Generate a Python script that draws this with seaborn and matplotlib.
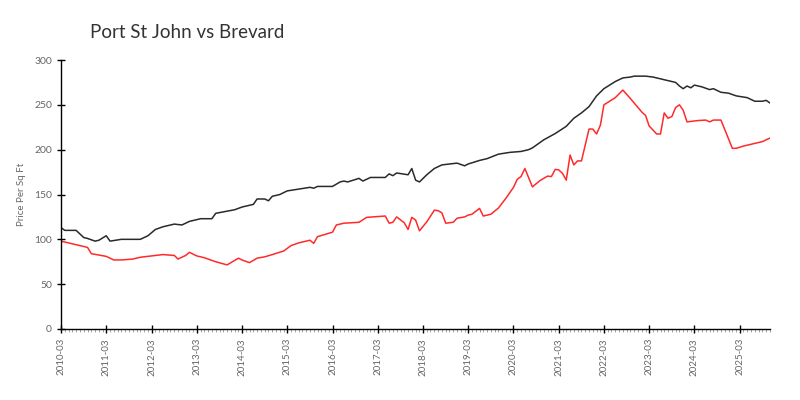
import pandas as pd
import numpy as np
import matplotlib
matplotlib.use("Agg")
import matplotlib.pyplot as plt
import matplotlib.dates as mdates
import seaborn as sns

# --- data (month, price per sq ft) ---
brevard_months = [
    "2010-03", "2010-04", "2010-07", "2010-09", "2010-10", "2010-12", "2011-01", "2011-03",
    "2011-04", "2011-07", "2011-10", "2011-12", "2012-02", "2012-04", "2012-06", "2012-09",
    "2012-11", "2013-01", "2013-04", "2013-07", "2013-08", "2014-01", "2014-03", "2014-06",
    "2014-07", "2014-09", "2014-10", "2014-11", "2015-01", "2015-03", "2015-06", "2015-09",
    "2015-10", "2015-11", "2016-03", "2016-05", "2016-06", "2016-07", "2016-10", "2016-11",
    "2017-01", "2017-05", "2017-06", "2017-07", "2017-08", "2017-11", "2017-12", "2018-01",
    "2018-02", "2018-04", "2018-06", "2018-08", "2018-10", "2018-12", "2019-02", "2019-03",
    "2019-06", "2019-08", "2019-11", "2020-02", "2020-05", "2020-07", "2020-08", "2020-11",
    "2021-02", "2021-05", "2021-07", "2021-09", "2021-11", "2022-01", "2022-03", "2022-06",
    "2022-08", "2022-10", "2022-11", "2023-02", "2023-04", "2023-07", "2023-10", "2023-11",
    "2023-12", "2024-01", "2024-02", "2024-03", "2024-05", "2024-07", "2024-08", "2024-10",
    "2024-12", "2025-02", "2025-05", "2025-07", "2025-09", "2025-10", "2025-11",
]
brevard_price = [
    113, 110, 110, 102, 101, 98, 99, 104,
    98, 100, 100, 100, 104, 111, 114, 117,
    116, 120, 123, 123, 129, 133, 136, 139,
    145, 145, 143, 148, 150, 154, 156, 158,
    157, 159, 159, 164, 165, 164, 168, 165,
    169, 169, 173, 171, 174, 172, 179, 166,
    164, 172, 179, 183, 184, 185, 182, 184,
    188, 190, 195, 197, 198, 200, 202, 211,
    218, 226, 235, 241, 248, 260, 268, 276,
    280, 281, 282, 282, 281, 278, 275, 271,
    268, 271, 269, 272, 270, 267, 268, 264,
    263, 260, 258, 254, 254, 255, 252,
]

psj_months = [
    "2010-03", "2010-10", "2010-11", "2011-03", "2011-05", "2011-07", "2011-10", "2011-12",
    "2012-03", "2012-06", "2012-09", "2012-10", "2012-12", "2013-01", "2013-03", "2013-05",
    "2013-08", "2013-11", "2014-02", "2014-03", "2014-05", "2014-07", "2014-09", "2014-11",
    "2015-02", "2015-04", "2015-06", "2015-09", "2015-10", "2015-11", "2016-01", "2016-03",
    "2016-04", "2016-06", "2016-10", "2016-12", "2017-05", "2017-06", "2017-07", "2017-08",
    "2017-10", "2017-11", "2017-12", "2018-01", "2018-02", "2018-04", "2018-06", "2018-07",
    "2018-08", "2018-09", "2018-11", "2018-12", "2019-02", "2019-03", "2019-04", "2019-06",
    "2019-07", "2019-09", "2019-11", "2020-01", "2020-03", "2020-04", "2020-05", "2020-06",
    "2020-08", "2020-10", "2020-12", "2021-01", "2021-02", "2021-03", "2021-04", "2021-05",
    "2021-06", "2021-07", "2021-08", "2021-09", "2021-11", "2021-12", "2022-01", "2022-02",
    "2022-03", "2022-06", "2022-08", "2022-10", "2023-01", "2023-02", "2023-03", "2023-05",
    "2023-06", "2023-07", "2023-08", "2023-09", "2023-10", "2023-11", "2023-12", "2024-01",
    "2024-04", "2024-06", "2024-07", "2024-08", "2024-10", "2025-01", "2025-02", "2025-04",
    "2025-06", "2025-09", "2025-11",
]
psj_price = [
    98, 91, 84, 81, 77, 77, 78, 80,
    81.5, 83, 82, 78, 82, 85.5, 81.5, 79.5,
    75, 71.5, 79, 77, 74, 79, 80.5, 83,
    87, 93, 96, 99, 95.5, 103, 105.5, 108,
    116, 118, 119, 124.5, 126, 118, 119, 125,
    118.5, 111, 124.5, 121.5, 109.5, 119.5, 132.5, 132,
    129.5, 118, 119, 123.5, 125, 127, 128, 134.5,
    126, 128, 135, 146, 158, 167, 170, 179,
    158.5, 165.5, 170.5, 170, 178, 177.5, 173.5, 166,
    194, 183, 187.5, 187.5, 223, 223, 217.5, 227.5,
    250, 258, 266.5, 257, 242, 238, 226.5, 217.5,
    217.5, 241, 235, 237, 247, 250, 244, 231,
    232.5, 233, 231, 233, 233, 201.5, 201.5, 204,
    206, 209, 213,
]

title = "Port St John vs Brevard"
y_label = "Price Per Sq Ft"

# --- build frames ---
brevard = pd.DataFrame({"month": pd.to_datetime(brevard_months), "price": brevard_price})
psj = pd.DataFrame({"month": pd.to_datetime(psj_months), "price": psj_price})

sns.set_style("white")
plt.rcParams["font.family"] = ["Lato", "DejaVu Sans"]

fig = plt.figure(figsize=(8, 4), dpi=100)
ax = fig.add_axes([61 / 800, 71 / 400, 709 / 800, 269 / 400])

sns.lineplot(data=brevard, x="month", y="price", color="#2a2a2a", linewidth=1.1, ax=ax)
sns.lineplot(data=psj, x="month", y="price", color="#ff2a2a", linewidth=1.1, ax=ax)

ax.set_xlim(pd.Timestamp("2010-03-01"), pd.Timestamp("2025-11-01"))
ax.set_ylim(0, 300)
ax.set_yticks(np.arange(0, 301, 50))

ax.xaxis.set_major_locator(mdates.MonthLocator(bymonth=3))
ax.xaxis.set_major_formatter(mdates.DateFormatter("%Y-%m"))
ax.xaxis.set_minor_locator(mdates.MonthLocator())

ax.tick_params(axis="both", which="major", direction="inout", length=6, width=1,
               color="black", labelcolor="#666666", labelsize=7.5, bottom=True, left=True)
ax.tick_params(axis="x", which="major", labelsize=7)
ax.tick_params(axis="x", which="minor", direction="out", length=2, width=0.6,
               color="#999999", bottom=True)
plt.setp(ax.get_xticklabels(), rotation=90)

for side in ["top", "right"]:
    ax.spines[side].set_visible(False)
for side in ["left", "bottom"]:
    ax.spines[side].set_color("black")
    ax.spines[side].set_linewidth(1)

ax.set_xlabel("")
ax.set_ylabel(y_label, color="#666666", fontsize=7, labelpad=6)
ax.grid(False)

fig.text(90 / 800, 1 - 32 / 400, title, fontsize=13.5, color="#333333",
         va="center", ha="left")

fig.savefig("out.png", dpi=100)
